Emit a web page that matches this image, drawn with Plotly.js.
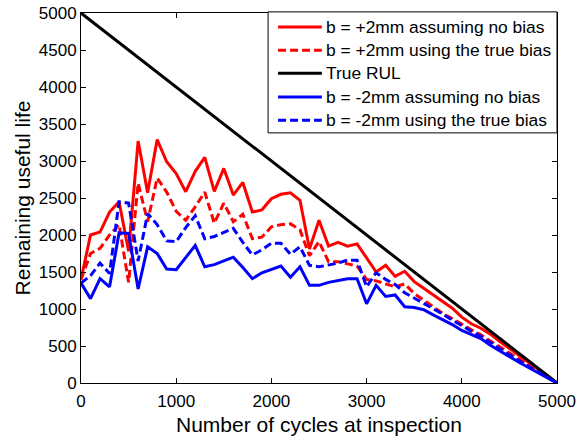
<!DOCTYPE html>
<html>
<head>
<meta charset="utf-8">
<script src="https://cdn.plot.ly/plotly-3.0.1.min.js"></script>
<style>html,body{margin:0;padding:0;background:#fff;}#chart{width:577px;height:436px;}</style>
</head>
<body>
<div id="chart"></div>
<script>
const cycles = [0,100,200,300,400,500,600,700,800,900,1000,1100,1200,1300,1400,1500,1600,1700,1800,1900,2000,2100,2200,2300,2400,2500,2600,2700,2800,2900,3000,3100,3200,3300,3400,3500,3600,3700,3800,3900,4000,4100,4200,4300,4400,4500,4600,4700,4800,4900,5000];

const posNoBias = [1400,2000,2040,2310,2450,1780,3270,2570,3290,2990,2830,2585,2860,3050,2590,2900,2540,2710,2310,2340,2490,2550,2570,2470,1810,2200,1850,1900,1850,1880,1690,1500,1590,1440,1510,1370,1280,1190,1110,1010,890,800,740,660,560,470,380,290,190,95,0];

const posTrueBias = [1400,1750,1820,2000,2140,1360,2700,2180,2770,2580,2320,2200,2380,2580,2160,2430,2180,2280,1950,1970,2110,2140,2150,2070,1720,1910,1640,1640,1610,1580,1400,1380,1340,1300,1340,1210,1120,1030,940,870,790,720,650,570,490,400,320,240,160,80,0];

const trueX = [0,5000];
const trueRUL = [5000,0];

const negNoBias = [1350,1140,1410,1300,2030,2020,1270,1840,1750,1540,1530,1690,1860,1570,1600,1650,1700,1560,1410,1490,1540,1580,1430,1570,1320,1320,1360,1380,1410,1410,1070,1320,1170,1190,1030,1020,990,920,860,790,710,660,600,510,430,360,280,210,140,70,0];

const negTrueBias = [1350,1450,1620,1480,2450,2430,1650,2290,2140,1920,1910,2100,2260,1950,1980,2030,2090,1900,1730,1800,1890,1890,1740,1840,1590,1570,1590,1620,1660,1660,1300,1490,1400,1330,1220,1150,1080,1000,930,850,770,700,630,540,460,380,300,220,150,75,0];

const names = ['b = +2mm assuming no bias','b = +2mm using the true bias','True RUL','b = -2mm assuming no bias','b = -2mm using the true bias'];
const colors = ['#ff0000','#ff0000','#000000','#0000ff','#0000ff'];
const dashes = ['solid','8px,4px','solid','solid','8px,4px'];
const series = [posNoBias, posTrueBias, trueRUL, negNoBias, negTrueBias];

const F = 'Liberation Sans, Arial, sans-serif';
const traces = series.map((s, i) => ({
  x: i === 2 ? trueX : cycles, y: s, name: names[i], mode: 'lines',
  line: {color: colors[i], width: 3, dash: dashes[i]}, showlegend: false
}));

// legend box drawn in paper coordinates
const legendRows = [0.962, 0.899, 0.837, 0.773, 0.710];
const shapes = [{type: 'rect', xref: 'paper', yref: 'paper', x0: 0.393, x1: 1.0, y0: 0.676, y1: 1.003,
                 fillcolor: '#fff', line: {color: '#000', width: 1}, layer: 'above'}];
const annotations = [];
names.forEach((n, i) => {
  shapes.push({type: 'line', xref: 'paper', yref: 'paper', x0: 0.414, x1: 0.506, y0: legendRows[i], y1: legendRows[i],
               line: {color: colors[i], width: 3, dash: dashes[i]}, layer: 'above'});
  annotations.push({xref: 'paper', yref: 'paper', x: 0.511, y: legendRows[i], xanchor: 'left', yanchor: 'middle',
                    text: n, showarrow: false, font: {family: F, size: 17.4, color: '#000'}});
});

const axisCommon = {
  showline: true, linecolor: '#000', linewidth: 1, mirror: 'ticks',
  ticks: 'inside', ticklen: 5, tickcolor: '#000', tickwidth: 1,
  showgrid: false, zeroline: false,
  tickfont: {family: F, size: 17, color: '#000'}
};

const layout = {
  width: 577, height: 436,
  margin: {l: 81, r: 20, t: 13, b: 53},
  paper_bgcolor: '#fff', plot_bgcolor: '#fff',
  font: {family: F, color: '#000'},
  showlegend: false,
  shapes: shapes,
  annotations: annotations,
  xaxis: Object.assign({}, axisCommon, {range: [0, 5000], dtick: 1000, tick0: 0, ticklabelstandoff: 3,
           title: {text: 'Number of cycles at inspection', font: {family: F, size: 21, color: '#000'}, standoff: 7}}),
  yaxis: Object.assign({}, axisCommon, {range: [0, 5000], dtick: 500, tick0: 0,
           title: {text: 'Remaining useful life', font: {family: F, size: 21, color: '#000'}, standoff: 2}})
};

Plotly.newPlot('chart', traces, layout, {displayModeBar: false, staticPlot: true});
</script>
</body>
</html>
